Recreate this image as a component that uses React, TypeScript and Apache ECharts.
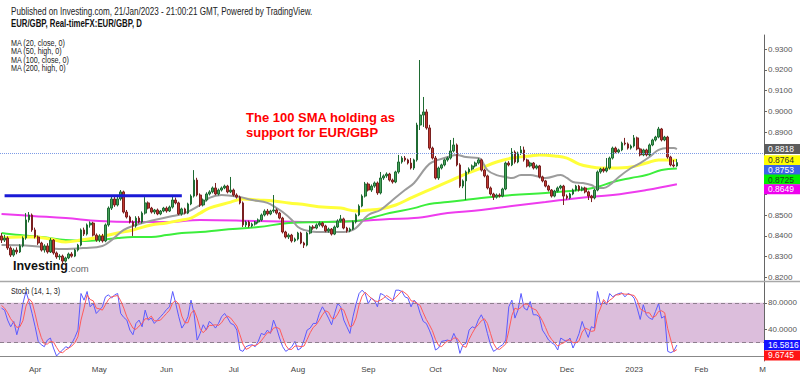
import React, { useEffect, useRef } from "react";
import * as echarts from "echarts";

// ---- slots: one per trading day, 17 Mar 2022 .. 1 Mar 2023 (only first 222 hold candles)
const SLOT_COUNT = 250;
const slots: string[] = Array.from({ length: SLOT_COUNT }, (_, i) => String(i));

// month labels on the time axis: [slot index, label]
const monthTicks: [number, string][] = [
  [11, "Apr"], [32, "May"], [54, "Jun"], [76, "Jul"], [97, "Aug"], [120, "Sep"],
  [142, "Oct"], [163, "Nov"], [185, "Dec"], [207, "2023"], [229, "Feb"], [249, "M"],
];

const priceTicks = [0.82, 0.83, 0.84, 0.85, 0.86, 0.87, 0.88, 0.89, 0.9, 0.91, 0.92, 0.93];
const stochTicks = [40, 80];
const PRICE_MIN = 0.81831;
const PRICE_MAX = 0.93674;
const STOCH_MIN = -7.5;
const STOCH_MAX = 111.3;

// EUR/GBP daily candles: [open, close, low, high]
const candles: number[][] = [
  [0.8400, 0.8380, 0.8366, 0.8414], [0.8380, 0.8390, 0.8371, 0.8405], [0.8390, 0.8342, 0.8333, 0.8398], [0.8342, 0.8308, 0.8299, 0.8350],
  [0.8308, 0.8332, 0.8300, 0.8340], [0.8332, 0.8323, 0.8312, 0.8345], [0.8323, 0.8352, 0.8318, 0.8360], [0.8352, 0.8390, 0.8345, 0.8398],
  [0.8390, 0.8477, 0.8382, 0.8510], [0.8477, 0.8501, 0.8465, 0.8515], [0.8501, 0.8429, 0.8420, 0.8508], [0.8429, 0.8395, 0.8388, 0.8440],
  [0.8395, 0.8366, 0.8357, 0.8402], [0.8366, 0.8332, 0.8325, 0.8372], [0.8332, 0.8352, 0.8320, 0.8360], [0.8352, 0.8323, 0.8315, 0.8365],
  [0.8323, 0.8380, 0.8318, 0.8390], [0.8380, 0.8318, 0.8310, 0.8385], [0.8318, 0.8299, 0.8290, 0.8325], [0.8299, 0.8303, 0.8285, 0.8312],
  [0.8303, 0.8279, 0.8270, 0.8310], [0.8279, 0.8294, 0.8272, 0.8300], [0.8294, 0.8313, 0.8288, 0.8320], [0.8313, 0.8303, 0.8296, 0.8322],
  [0.8303, 0.8332, 0.8298, 0.8338], [0.8332, 0.8356, 0.8325, 0.8362], [0.8356, 0.8429, 0.8350, 0.8436], [0.8429, 0.8409, 0.8400, 0.8440],
  [0.8409, 0.8453, 0.8402, 0.8460], [0.8453, 0.8462, 0.8440, 0.8470], [0.8462, 0.8404, 0.8398, 0.8468], [0.8404, 0.8380, 0.8372, 0.8412],
  [0.8380, 0.8400, 0.8370, 0.8408], [0.8400, 0.8376, 0.8368, 0.8410], [0.8376, 0.8453, 0.8370, 0.8460], [0.8453, 0.8534, 0.8445, 0.8542],
  [0.8534, 0.8578, 0.8525, 0.8597], [0.8578, 0.8549, 0.8540, 0.8590], [0.8549, 0.8578, 0.8542, 0.8588], [0.8578, 0.8612, 0.8570, 0.8621],
  [0.8612, 0.8515, 0.8508, 0.8618], [0.8515, 0.8491, 0.8484, 0.8525], [0.8491, 0.8467, 0.8460, 0.8498], [0.8467, 0.8448, 0.8400, 0.8475],
  [0.8448, 0.8486, 0.8440, 0.8495], [0.8486, 0.8467, 0.8460, 0.8495], [0.8467, 0.8510, 0.8460, 0.8518], [0.8510, 0.8559, 0.8503, 0.8587],
  [0.8559, 0.8534, 0.8528, 0.8566], [0.8534, 0.8515, 0.8508, 0.8540], [0.8515, 0.8525, 0.8505, 0.8530], [0.8525, 0.8506, 0.8500, 0.8532],
  [0.8506, 0.8520, 0.8500, 0.8525], [0.8520, 0.8534, 0.8514, 0.8540], [0.8534, 0.8520, 0.8512, 0.8542], [0.8520, 0.8539, 0.8515, 0.8546],
  [0.8539, 0.8573, 0.8532, 0.8592], [0.8573, 0.8559, 0.8552, 0.8585], [0.8559, 0.8506, 0.8500, 0.8565], [0.8506, 0.8530, 0.8498, 0.8536],
  [0.8530, 0.8510, 0.8504, 0.8536], [0.8510, 0.8554, 0.8505, 0.8560], [0.8554, 0.8592, 0.8548, 0.8600], [0.8592, 0.8669, 0.8585, 0.8717],
  [0.8669, 0.8597, 0.8590, 0.8680], [0.8597, 0.8549, 0.8540, 0.8605], [0.8549, 0.8573, 0.8542, 0.8580], [0.8573, 0.8602, 0.8566, 0.8610],
  [0.8602, 0.8612, 0.8595, 0.8620], [0.8612, 0.8631, 0.8605, 0.8638], [0.8631, 0.8602, 0.8596, 0.8655], [0.8602, 0.8621, 0.8595, 0.8628],
  [0.8621, 0.8631, 0.8614, 0.8638], [0.8631, 0.8640, 0.8625, 0.8647], [0.8640, 0.8612, 0.8605, 0.8646], [0.8612, 0.8621, 0.8606, 0.8684],
  [0.8621, 0.8597, 0.8590, 0.8628], [0.8597, 0.8587, 0.8580, 0.8605], [0.8587, 0.8559, 0.8552, 0.8594], [0.8559, 0.8453, 0.8443, 0.8566],
  [0.8453, 0.8467, 0.8443, 0.8474], [0.8467, 0.8448, 0.8440, 0.8474], [0.8448, 0.8457, 0.8442, 0.8464], [0.8457, 0.8467, 0.8450, 0.8472],
  [0.8467, 0.8477, 0.8460, 0.8484], [0.8477, 0.8501, 0.8470, 0.8508], [0.8501, 0.8520, 0.8494, 0.8528], [0.8520, 0.8506, 0.8498, 0.8530],
  [0.8506, 0.8520, 0.8500, 0.8526], [0.8520, 0.8525, 0.8512, 0.8597], [0.8525, 0.8510, 0.8503, 0.8532], [0.8510, 0.8486, 0.8480, 0.8516],
  [0.8486, 0.8419, 0.8412, 0.8492], [0.8419, 0.8395, 0.8388, 0.8425], [0.8395, 0.8404, 0.8385, 0.8412], [0.8404, 0.8376, 0.8368, 0.8410],
  [0.8376, 0.8385, 0.8370, 0.8392], [0.8385, 0.8414, 0.8378, 0.8420], [0.8414, 0.8366, 0.8360, 0.8420], [0.8366, 0.8356, 0.8342, 0.8372],
  [0.8356, 0.8414, 0.8350, 0.8420], [0.8414, 0.8443, 0.8408, 0.8450], [0.8443, 0.8438, 0.8430, 0.8452], [0.8438, 0.8453, 0.8432, 0.8460],
  [0.8453, 0.8462, 0.8445, 0.8470], [0.8462, 0.8448, 0.8440, 0.8468], [0.8448, 0.8424, 0.8418, 0.8454], [0.8424, 0.8433, 0.8416, 0.8440],
  [0.8433, 0.8409, 0.8402, 0.8438], [0.8409, 0.8443, 0.8404, 0.8450], [0.8443, 0.8472, 0.8438, 0.8480], [0.8472, 0.8482, 0.8465, 0.8501],
  [0.8482, 0.8438, 0.8432, 0.8488], [0.8438, 0.8424, 0.8416, 0.8444], [0.8424, 0.8433, 0.8418, 0.8440], [0.8433, 0.8467, 0.8428, 0.8474],
  [0.8467, 0.8501, 0.8460, 0.8508], [0.8501, 0.8544, 0.8495, 0.8552], [0.8544, 0.8592, 0.8538, 0.8600], [0.8592, 0.8650, 0.8585, 0.8660],
  [0.8650, 0.8621, 0.8614, 0.8658], [0.8621, 0.8640, 0.8612, 0.8648], [0.8640, 0.8655, 0.8632, 0.8662], [0.8655, 0.8607, 0.8598, 0.8662],
  [0.8607, 0.8679, 0.8600, 0.8708], [0.8679, 0.8689, 0.8670, 0.8696], [0.8689, 0.8698, 0.8680, 0.8706], [0.8698, 0.8669, 0.8662, 0.8704],
  [0.8669, 0.8660, 0.8652, 0.8676], [0.8660, 0.8708, 0.8654, 0.8714], [0.8708, 0.8756, 0.8700, 0.8790], [0.8756, 0.8775, 0.8748, 0.8784],
  [0.8775, 0.8766, 0.8758, 0.8785], [0.8766, 0.8751, 0.8744, 0.8772], [0.8751, 0.8727, 0.8720, 0.8775], [0.8727, 0.8766, 0.8718, 0.8772],
  [0.8766, 0.8934, 0.8758, 0.8945], [0.8934, 0.8982, 0.8910, 0.9247], [0.8982, 0.8997, 0.8925, 0.9069], [0.8997, 0.8920, 0.8912, 0.9010],
  [0.8920, 0.8823, 0.8815, 0.8935], [0.8823, 0.8775, 0.8768, 0.8830], [0.8775, 0.8679, 0.8672, 0.8785], [0.8679, 0.8727, 0.8670, 0.8734],
  [0.8727, 0.8742, 0.8720, 0.8748], [0.8742, 0.8766, 0.8735, 0.8772], [0.8766, 0.8775, 0.8758, 0.8782], [0.8775, 0.8809, 0.8768, 0.8862],
  [0.8809, 0.8838, 0.8802, 0.8872], [0.8838, 0.8742, 0.8735, 0.8845], [0.8742, 0.8640, 0.8632, 0.8750], [0.8640, 0.8665, 0.8630, 0.8672],
  [0.8665, 0.8708, 0.8573, 0.8715], [0.8708, 0.8722, 0.8700, 0.8730], [0.8722, 0.8737, 0.8715, 0.8744], [0.8737, 0.8751, 0.8730, 0.8758],
  [0.8751, 0.8766, 0.8744, 0.8774], [0.8766, 0.8717, 0.8710, 0.8772], [0.8717, 0.8689, 0.8682, 0.8724], [0.8689, 0.8631, 0.8624, 0.8695],
  [0.8631, 0.8602, 0.8595, 0.8638], [0.8602, 0.8587, 0.8573, 0.8608], [0.8587, 0.8597, 0.8580, 0.8604], [0.8597, 0.8592, 0.8585, 0.8605],
  [0.8592, 0.8626, 0.8586, 0.8632], [0.8626, 0.8751, 0.8620, 0.8758], [0.8751, 0.8742, 0.8735, 0.8760], [0.8742, 0.8804, 0.8736, 0.8823],
  [0.8804, 0.8756, 0.8748, 0.8812], [0.8756, 0.8799, 0.8750, 0.8806], [0.8799, 0.8814, 0.8790, 0.8833], [0.8814, 0.8766, 0.8758, 0.8830],
  [0.8766, 0.8737, 0.8730, 0.8772], [0.8737, 0.8751, 0.8730, 0.8758], [0.8751, 0.8727, 0.8720, 0.8756], [0.8727, 0.8737, 0.8720, 0.8744],
  [0.8737, 0.8684, 0.8677, 0.8742], [0.8684, 0.8665, 0.8658, 0.8690], [0.8665, 0.8640, 0.8634, 0.8670], [0.8640, 0.8621, 0.8614, 0.8646],
  [0.8621, 0.8592, 0.8585, 0.8626], [0.8592, 0.8616, 0.8586, 0.8622], [0.8616, 0.8631, 0.8610, 0.8638], [0.8631, 0.8640, 0.8624, 0.8646],
  [0.8640, 0.8592, 0.8549, 0.8646], [0.8592, 0.8583, 0.8575, 0.8600], [0.8583, 0.8602, 0.8576, 0.8608], [0.8602, 0.8621, 0.8596, 0.8628],
  [0.8621, 0.8640, 0.8615, 0.8646], [0.8640, 0.8621, 0.8614, 0.8646], [0.8621, 0.8631, 0.8615, 0.8638], [0.8631, 0.8612, 0.8605, 0.8637],
  [0.8612, 0.8592, 0.8573, 0.8618], [0.8592, 0.8583, 0.8563, 0.8598], [0.8583, 0.8621, 0.8576, 0.8628], [0.8621, 0.8708, 0.8615, 0.8715],
  [0.8708, 0.8722, 0.8700, 0.8728], [0.8722, 0.8713, 0.8705, 0.8730], [0.8713, 0.8727, 0.8706, 0.8775], [0.8727, 0.8775, 0.8720, 0.8782],
  [0.8775, 0.8823, 0.8768, 0.8830], [0.8823, 0.8804, 0.8798, 0.8830], [0.8804, 0.8814, 0.8797, 0.8820], [0.8814, 0.8847, 0.8808, 0.8854],
  [0.8847, 0.8843, 0.8836, 0.8872], [0.8843, 0.8823, 0.8816, 0.8850], [0.8823, 0.8833, 0.8816, 0.8840], [0.8833, 0.8872, 0.8826, 0.8886],
  [0.8872, 0.8819, 0.8812, 0.8878], [0.8819, 0.8790, 0.8783, 0.8825], [0.8790, 0.8814, 0.8784, 0.8820], [0.8814, 0.8790, 0.8783, 0.8820],
  [0.8790, 0.8838, 0.8784, 0.8845], [0.8838, 0.8862, 0.8832, 0.8868], [0.8862, 0.8876, 0.8855, 0.8882], [0.8876, 0.8915, 0.8870, 0.8925],
  [0.8915, 0.8862, 0.8855, 0.8920], [0.8862, 0.8876, 0.8856, 0.8882], [0.8876, 0.8780, 0.8772, 0.8882], [0.8780, 0.8742, 0.8735, 0.8786],
  [0.8742, 0.8737, 0.8730, 0.8766], [0.8737, 0.8753, 0.8733, 0.8770],
];

// moving averages: [slot index, value]
const ma20: [number, number][] = [
  [0, 0.8356], [10, 0.8352], [20, 0.8337], [27, 0.8342], [33, 0.8352], [36, 0.8380], [40, 0.8429], [44, 0.8453],
  [50, 0.8477], [56, 0.8496], [60, 0.8510], [65, 0.8549], [68, 0.8583], [72, 0.8597], [78, 0.8587], [82, 0.8573],
  [87, 0.8559], [90, 0.8534], [92, 0.8515], [95, 0.8477], [97, 0.8443], [99, 0.8429], [103, 0.8419], [108, 0.8419],
  [112, 0.8419], [115, 0.8429], [117, 0.8453], [120, 0.8501], [124, 0.8525], [128, 0.8573], [132, 0.8621], [135, 0.8655],
  [139, 0.8732], [141, 0.8756], [146, 0.8780], [149, 0.8790], [152, 0.8780], [156, 0.8775], [157, 0.8766], [159, 0.8717],
  [162, 0.8693], [165, 0.8684], [167, 0.8679], [170, 0.8693], [173, 0.8693], [176, 0.8684], [178, 0.8679], [183, 0.8693],
  [185, 0.8679], [187, 0.8660], [190, 0.8655], [193, 0.8645], [195, 0.8631], [197, 0.8631], [199, 0.8645], [202, 0.8684],
  [206, 0.8727], [209, 0.8751], [212, 0.8780], [215, 0.8814], [218, 0.8823], [220, 0.8823], [221, 0.8818],
];
const ma50: [number, number][] = [
  [0, 0.8390], [6, 0.8395], [10, 0.8395], [16, 0.8385], [21, 0.8371], [26, 0.8380], [32, 0.8395], [38, 0.8414],
  [43, 0.8429], [49, 0.8453], [54, 0.8462], [59, 0.8477], [62, 0.8486], [65, 0.8510], [68, 0.8534], [75, 0.8563],
  [79, 0.8578], [84, 0.8573], [89, 0.8568], [94, 0.8559], [100, 0.8549], [105, 0.8539], [111, 0.8534], [116, 0.8520],
  [120, 0.8525], [124, 0.8530], [129, 0.8549], [134, 0.8583], [139, 0.8616], [146, 0.8660], [151, 0.8693], [157, 0.8727],
  [162, 0.8756], [167, 0.8775], [173, 0.8785], [176, 0.8790], [181, 0.8785], [185, 0.8775], [189, 0.8746], [193, 0.8732],
  [196, 0.8727], [200, 0.8727], [206, 0.8732], [211, 0.8751], [215, 0.8766], [218, 0.8766], [221, 0.8764],
];
const ma100: [number, number][] = [
  [0, 0.8414], [6, 0.8404], [13, 0.8395], [21, 0.8380], [27, 0.8376], [32, 0.8380], [38, 0.8390], [43, 0.8395],
  [49, 0.8395], [54, 0.8404], [59, 0.8414], [65, 0.8419], [72, 0.8429], [84, 0.8443], [94, 0.8462], [105, 0.8467],
  [116, 0.8472], [122, 0.8491], [127, 0.8510], [135, 0.8534], [140, 0.8554], [146, 0.8563], [157, 0.8583], [167, 0.8597],
  [178, 0.8607], [189, 0.8621], [195, 0.8636], [200, 0.8660], [206, 0.8679], [211, 0.8693], [216, 0.8717], [221, 0.8725],
];
const ma200: [number, number][] = [
  [0, 0.8506], [10, 0.8496], [21, 0.8486], [32, 0.8472], [43, 0.8467], [54, 0.8467], [65, 0.8477], [84, 0.8472],
  [105, 0.8467], [116, 0.8472], [127, 0.8482], [135, 0.8486], [146, 0.8510], [157, 0.8525], [167, 0.8544], [178, 0.8563],
  [189, 0.8583], [200, 0.8597], [211, 0.8621], [221, 0.8649],
];

// Stochastic (14, 1, 3)
const stochK: number[] = [
  72, 69, 54, 44, 52, 32, 49, 79, 97, 82,
  64, 44, 22, 17, 14, 24, 27, 12, 0, 5,
  9, 14, 12, 19, 28, 39, 94, 84, 97, 74,
  79, 64, 69, 74, 89, 92, 87, 92, 94, 64,
  58, 54, 39, 32, 49, 54, 44, 69, 54, 57,
  49, 54, 59, 64, 70, 74, 97, 79, 59, 42,
  49, 59, 84, 64, 24, 34, 47, 39, 52, 48,
  42, 49, 59, 64, 57, 49, 47, 39, 9, 7,
  14, 16, 17, 14, 22, 34, 32, 39, 34, 54,
  42, 27, 14, 7, 10, 14, 22, 9, 12, 24,
  39, 42, 49, 49, 64, 74, 66, 57, 47, 64,
  79, 74, 54, 44, 34, 59, 78, 94, 99, 94,
  79, 87, 84, 74, 94, 92, 87, 84, 82, 99,
  99, 97, 89, 87, 74, 84, 79, 64, 52, 49,
  39, 27, 9, 12, 22, 23, 24, 22, 34, 24,
  4, 17, 19, 39, 44, 42, 54, 62, 52, 34,
  17, 7, 10, 14, 17, 24, 74, 84, 57, 69,
  94, 72, 69, 82, 62, 62, 59, 39, 32, 24,
  20, 17, 9, 27, 24, 22, 27, 12, 22, 34,
  52, 39, 28, 44, 42, 97, 77, 82, 77, 94,
  89, 92, 94, 95, 89, 94, 92, 87, 72, 55,
  77, 62, 57, 55, 67, 79, 57, 60, 7, 5,
  7.4, 16.5816,
];
const stochD: number[] = [
  76, 72, 65, 56, 50, 43, 44, 53, 75, 86,
  81, 63, 43, 28, 18, 18, 22, 21, 13, 6,
  5, 9, 12, 15, 20, 29, 54, 72, 92, 85,
  83, 72, 71, 69, 77, 85, 89, 90, 91, 83,
  72, 59, 50, 42, 40, 45, 49, 56, 56, 60,
  53, 53, 54, 59, 64, 69, 80, 83, 78, 60,
  50, 50, 64, 69, 57, 41, 35, 40, 46, 46,
  47, 46, 50, 57, 60, 57, 51, 45, 32, 18,
  10, 12, 16, 16, 18, 23, 29, 35, 35, 42,
  43, 41, 28, 16, 10, 10, 15, 15, 14, 15,
  25, 35, 43, 47, 54, 62, 68, 66, 57, 56,
  63, 72, 69, 57, 44, 46, 57, 77, 90, 96,
  91, 87, 83, 82, 84, 87, 91, 88, 84, 88,
  93, 98, 95, 91, 83, 82, 79, 76, 65, 55,
  47, 38, 25, 16, 14, 19, 23, 23, 27, 27,
  21, 15, 13, 25, 34, 42, 47, 53, 56, 49,
  34, 19, 11, 10, 14, 18, 38, 61, 72, 70,
  73, 78, 78, 74, 71, 69, 61, 53, 43, 32,
  25, 20, 15, 18, 20, 24, 24, 20, 20, 23,
  36, 42, 40, 37, 38, 61, 72, 85, 79, 84,
  87, 92, 92, 94, 93, 93, 92, 91, 84, 71,
  68, 65, 65, 58, 60, 67, 68, 65, 41, 24,
  6.5, 9.6745,
];
const stochBandLow = 20;
const stochBandHigh = 80;

// horizontal resistance line
const resistanceLevel = 0.8594;
const resistanceFrom = 1;
const resistanceTo = 59;
const lastPrice = 0.8753;

// value badges on the right axis
const priceBadges = [
  { value: 0.8818, bg: "#5c5c5c", fg: "#ffffff" },
  { value: 0.8764, bg: "#ffff00", fg: "#333333" },
  { value: 0.8753, bg: "#3d63e6", fg: "#ffffff" },
  { value: 0.8725, bg: "#00ee00", fg: "#1f3f1f" },
  { value: 0.8649, bg: "#ee00ee", fg: "#ffffff" },
];
const stochBadges = [
  { value: 16.5816, bg: "#1414ff", fg: "#ffffff" },
  { value: 9.6745, bg: "#ff1414", fg: "#ffffff" },
];

const FONT = "Liberation Sans, Arial, sans-serif";

export default function App() {
  const ref = useRef<HTMLDivElement>(null);

  useEffect(() => {
    document.body.style.margin = "0";
    if (!ref.current) return;
    const chart = echarts.init(ref.current, null, { renderer: "svg" });
    const tickMap = new Map<number, string>(monthTicks);

    const txt = (id: string, x: number, y: number, text: string, size: number, opts: any = {}) => ({
      type: "text",
      id,
      x,
      y,
      scaleX: opts.scaleX ?? 1,
      z: 50,
      style: {
        text,
        fontSize: size,
        fontFamily: FONT,
        fontWeight: opts.bold ? "bold" : "normal",
        fill: opts.color ?? "#222",
        verticalAlign: "middle",
        textAlign: "left",
      },
    });

    const graphics: any[] = [
      txt("h1", 11, 12, "Published on Investing.com, 21/Jan/2023 - 21:00:21 GMT, Powered by TradingView.", 10, { scaleX: 0.81 }),
      txt("h2", 11, 24, "EUR/GBP, Real-timeFX:EUR/GBP, D", 10, { scaleX: 0.78, bold: true, color: "#111" }),
      txt("m1", 11, 43.3, "MA (20, close, 0)", 9, { scaleX: 0.8 }),
      txt("m2", 11, 51.7, "MA (50, high, 0)", 9, { scaleX: 0.8 }),
      txt("m3", 11, 60, "MA (100, close, 0)", 9, { scaleX: 0.8 }),
      txt("m4", 11, 68.3, "MA (200, high, 0)", 9, { scaleX: 0.8 }),
      txt("st", 11, 291, "Stoch (14, 1, 3)", 9, { scaleX: 0.8 }),
      txt("a1", 246, 117.5, "The 100 SMA holding as", 13, { bold: true, color: "#ff0000" }),
      txt("a2", 246, 132.5, "support for EUR/GBP", 13, { bold: true, color: "#ff0000" }),
      txt("lg1", 13, 266, "Investing", 12.5, { bold: true, color: "#111" }),
      txt("lg2", 68, 268, ".com", 9.5, { color: "#666" }),
      {
        type: "line",
        id: "sep",
        z: 40,
        shape: { x1: 0, y1: 281.5, x2: 800, y2: 281.5 },
        style: { stroke: "#a8a8a8", lineWidth: 1.5 },
      },
    ];

    const priceAxisLabel = (values: number[]) => ({
      customValues: values,
      formatter: (v: number) => v.toFixed(4),
      fontSize: 8,
      fontFamily: FONT,
      color: "#555",
      margin: 4,
    });

    const option: any = {
      animation: false,
      backgroundColor: "#ffffff",
      grid: [
        { left: 0, right: 36, top: 35, height: 246 },
        { left: 0, right: 36, top: 282, height: 79 },
      ],
      xAxis: [
        { type: "category", gridIndex: 0, data: slots, show: false },
        {
          type: "category",
          gridIndex: 1,
          data: slots,
          axisLine: { show: true, lineStyle: { color: "#888", width: 1 } },
          axisTick: { show: false },
          splitLine: { show: false },
          axisLabel: {
            interval: (i: number) => tickMap.has(i),
            formatter: (_v: string, i: number) => tickMap.get(i) ?? "",
            fontSize: 8,
            fontFamily: FONT,
            color: "#444",
            margin: 4,
          },
        },
      ],
      yAxis: [
        {
          type: "value",
          gridIndex: 0,
          position: "right",
          min: PRICE_MIN,
          max: PRICE_MAX,
          splitLine: { show: false },
          axisLine: { show: true, lineStyle: { color: "#666" } },
          axisTick: { show: true, length: 3, customValues: priceTicks, lineStyle: { color: "#666" } },
          axisLabel: priceAxisLabel(priceTicks),
        },
        {
          type: "value",
          gridIndex: 1,
          position: "right",
          min: STOCH_MIN,
          max: STOCH_MAX,
          splitLine: { show: false },
          axisLine: { show: true, lineStyle: { color: "#666" } },
          axisTick: { show: true, length: 3, customValues: stochTicks, lineStyle: { color: "#666" } },
          axisLabel: {
            customValues: stochTicks,
            formatter: (v: number) => v.toFixed(4),
            fontSize: 8,
            fontFamily: FONT,
            color: "#555",
            margin: 4,
          },
        },
      ],
      series: [
        {
          type: "line",
          name: "MA200",
          xAxisIndex: 0,
          yAxisIndex: 0,
          data: ma200,
          smooth: 0.4,
          showSymbol: false,
          z: 3,
          lineStyle: { color: "#ee3cee", width: 2 },
        },
        {
          type: "line",
          name: "MA100",
          xAxisIndex: 0,
          yAxisIndex: 0,
          data: ma100,
          smooth: 0.4,
          showSymbol: false,
          z: 3,
          lineStyle: { color: "#3cee3c", width: 2 },
        },
        {
          type: "line",
          name: "MA50",
          xAxisIndex: 0,
          yAxisIndex: 0,
          data: ma50,
          smooth: 0.4,
          showSymbol: false,
          z: 3,
          lineStyle: { color: "#ffff3a", width: 3 },
        },
        {
          type: "line",
          name: "MA20",
          xAxisIndex: 0,
          yAxisIndex: 0,
          data: ma20,
          smooth: 0.4,
          showSymbol: false,
          z: 3,
          lineStyle: { color: "#9c9c9c", width: 2 },
        },
        {
          type: "candlestick",
          name: "EURGBP",
          xAxisIndex: 0,
          yAxisIndex: 0,
          data: candles,
          barWidth: 2.2,
          z: 4,
          itemStyle: {
            color: "#46a25a",
            color0: "#c23a30",
            borderColor: "#1f6b33",
            borderColor0: "#7a2020",
            borderWidth: 1,
          },
          markLine: {
            silent: true,
            symbol: ["none", "none"],
            label: { show: false },
            lineStyle: { color: "#7d9be6", type: "dotted", width: 1 },
            data: [{ yAxis: lastPrice }],
          },
        },
        {
          type: "line",
          name: "resistance",
          xAxisIndex: 0,
          yAxisIndex: 0,
          data: [
            [resistanceFrom, resistanceLevel],
            [resistanceTo, resistanceLevel],
          ],
          showSymbol: false,
          z: 5,
          lineStyle: { color: "#1a1ad6", width: 3 },
        },
        {
          type: "line",
          name: "band",
          xAxisIndex: 1,
          yAxisIndex: 1,
          data: stochD,
          showSymbol: false,
          z: 1,
          lineStyle: { opacity: 0 },
          markArea: {
            silent: true,
            itemStyle: { color: "#dcbedc", opacity: 1 },
            data: [[{ yAxis: stochBandLow }, { yAxis: stochBandHigh }]],
          },
          markLine: {
            silent: true,
            symbol: ["none", "none"],
            label: { show: false },
            lineStyle: { color: "#8e7e8e", type: [4, 3], width: 1 },
            data: [{ yAxis: stochBandLow }, { yAxis: stochBandHigh }],
          },
        },
        {
          type: "line",
          name: "%K",
          xAxisIndex: 1,
          yAxisIndex: 1,
          data: stochK,
          showSymbol: false,
          z: 4,
          lineStyle: { color: "#5a5aff", width: 1 },
        },
        {
          type: "line",
          name: "%D",
          xAxisIndex: 1,
          yAxisIndex: 1,
          data: stochD,
          showSymbol: false,
          z: 5,
          lineStyle: { color: "#ff5a5a", width: 1 },
        },
      ],
      graphic: graphics,
    };

    chart.setOption(option);

    const toY = (axis: number, v: number) =>
      chart.convertToPixel({ yAxisIndex: axis } as any, v) as unknown as number;

    const stack = (defs: typeof priceBadges, axis: number, gap: number) => {
      let prev = -Infinity;
      return [...defs]
        .sort((a, b) => b.value - a.value)
        .map((d) => {
          const y0 = toY(axis, d.value);
          const y = Math.max(y0, prev + gap);
          prev = y;
          return { ...d, y };
        });
    };

    const placedPrice = stack(priceBadges, 0, 9.6);
    const placedStoch = stack(stochBadges, 1, 10.5);

    const badgeEls: any[] = [];
    const addBadges = (list: any[], prefix: string) => {
      list.forEach((b, k) => {
        badgeEls.push({
          type: "rect",
          id: `${prefix}r${k}`,
          z: 60,
          shape: { x: 764, y: b.y - 5, width: 36, height: 10 },
          style: { fill: b.bg },
        });
        badgeEls.push({
          type: "text",
          id: `${prefix}t${k}`,
          z: 61,
          x: 768,
          y: b.y,
          style: {
            text: b.value.toFixed(4),
            fontSize: 8.5,
            fontFamily: FONT,
            fill: b.fg,
            verticalAlign: "middle",
            textAlign: "left",
          },
        });
      });
    };
    addBadges(placedPrice, "p");
    addBadges(placedStoch, "s");

    // axis labels hidden behind the value badges are not drawn
    const visiblePriceTicks = priceTicks.filter((v) => {
      const y = toY(0, v);
      return !placedPrice.some((b) => Math.abs(b.y - y) < 10);
    });

    chart.setOption({
      yAxis: [{ axisLabel: priceAxisLabel(visiblePriceTicks) }, {}],
      graphic: badgeEls,
    });

    return () => chart.dispose();
  }, []);

  return <div ref={ref} style={{ width: 800, height: 376 }} />;
}
